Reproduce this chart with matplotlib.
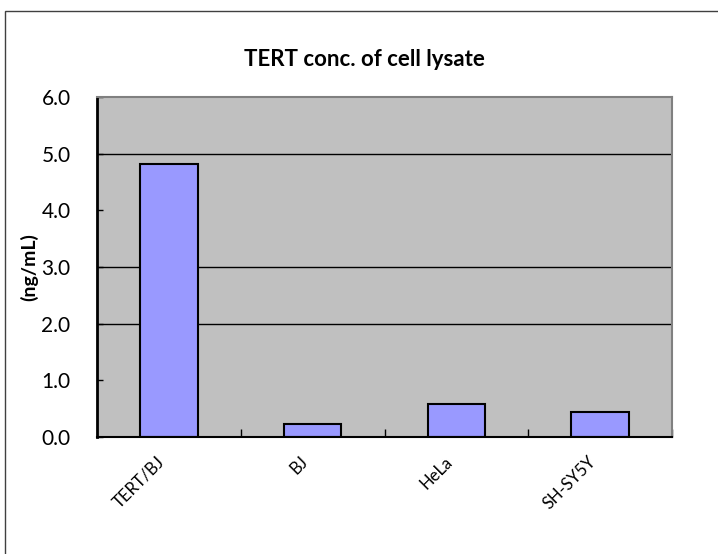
import matplotlib

matplotlib.use("Agg")
import matplotlib.pyplot as plt
import matplotlib.transforms as mtransforms
from matplotlib.patches import Rectangle

cell_lines = ["TERT/BJ", "BJ", "HeLa", "SH-SY5Y"]
tert_conc = [4.82, 0.23, 0.58, 0.44]
y_ticks = [0.0, 1.0, 2.0, 3.0, 4.0, 5.0, 6.0]
grid_levels = [2.0, 3.0, 5.0]

plt.rcParams["font.family"] = ["Lato", "DejaVu Sans"]

fig = plt.figure(figsize=(7.18, 5.54), dpi=100)
# outer chart border (only top and left show in the reference)
fig.patches.append(
    Rectangle((5 / 718, -0.5), 2.0, 1.5 - 11 / 554, transform=fig.transFigure,
              fill=False, edgecolor="#404040", linewidth=1.0)
)

ax = fig.add_axes([97 / 718, 1 - 437 / 554, (672 - 97) / 718, (437 - 97) / 554])
ax.set_facecolor("#C0C0C0")

for g in grid_levels:
    ax.axhline(g, color="black", linewidth=1.0, zorder=1)

x = range(len(cell_lines))
ax.bar(x, tert_conc, width=0.4, color="#9999FF", edgecolor="black",
       linewidth=1.5, zorder=2)

ax.set_xlim(-0.5, len(cell_lines) - 0.5)
ax.set_ylim(0, 6)
ax.set_yticks(y_ticks)
ax.set_yticklabels([f"{v:.1f}" for v in y_ticks], fontsize=15)
ax.tick_params(axis="y", direction="in", length=4, width=1, pad=19)

ax.set_xticks(list(x))
ax.set_xticklabels(cell_lines, rotation=45, ha="right", va="top",
                   rotation_mode="anchor", fontsize=12)
ax.set_xticks([i + 0.5 for i in range(len(cell_lines))], minor=True)
ax.tick_params(axis="x", which="major", length=0, pad=12)
ax.tick_params(axis="x", which="minor", direction="in", length=6, width=1)
shift = mtransforms.ScaledTranslation(-9 / 72, 0, fig.dpi_scale_trans)
for lbl in ax.get_xticklabels():
    lbl.set_transform(lbl.get_transform() + shift)

for side in ["top", "right"]:
    ax.spines[side].set_color("#808080")
    ax.spines[side].set_linewidth(1.5)
ax.spines["left"].set_color("black")
ax.spines["left"].set_linewidth(2)
ax.spines["bottom"].set_color("black")
ax.spines["bottom"].set_linewidth(1.5)

ax.set_ylabel("(ng/mL)", fontsize=14, fontweight="bold", labelpad=2)
fig.text(364 / 718, 1 - 66 / 554, "TERT conc. of cell lysate", ha="center",
         va="baseline", fontsize=16, fontweight="bold")

fig.savefig("out.png", dpi=100)
